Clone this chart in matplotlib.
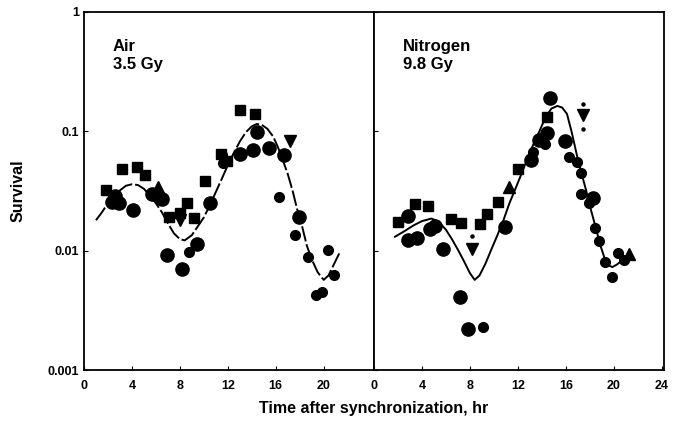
import numpy as np
import matplotlib
matplotlib.use("Agg")
import matplotlib.pyplot as plt

plt.rcParams['font.family'] = ['Liberation Sans', 'DejaVu Sans']

# ---- Air, 3.5 Gy ----
air_big_x = [2.6, 2.3, 2.9, 4.1, 5.7, 6.5, 6.9, 8.2, 9.45, 10.5, 14.4, 14.1, 15.4, 13.0, 16.7, 17.9]
air_big_y = [0.029, 0.0257, 0.025, 0.022, 0.030, 0.027, 0.0092, 0.0070, 0.0113, 0.025,
             0.099, 0.070, 0.072, 0.065, 0.063, 0.019]
air_small_x = [8.75, 11.6, 11.5, 16.3, 17.6, 18.7, 20.4, 20.9, 19.4, 19.9]
air_small_y = [0.0098, 0.054, 0.063, 0.0283, 0.0135, 0.0089, 0.0102, 0.00625, 0.00425, 0.0045]
air_sq_x = [1.8, 3.2, 4.4, 5.05, 7.1, 8.05, 8.6, 9.2, 10.1, 11.4, 11.95, 13.0, 14.3]
air_sq_y = [0.032, 0.048, 0.050, 0.043, 0.019, 0.0205, 0.025, 0.0187, 0.0385, 0.065, 0.056, 0.151, 0.14]
air_tu_x = [6.2]
air_tu_y = [0.034]
air_td_x = [8.05, 17.2]
air_td_y = [0.018, 0.083]
air_fit_x = [1.0, 1.5, 2.0, 2.5, 3.0, 3.5, 4.0, 4.5, 5.0, 5.5, 6.0, 6.5, 7.0, 7.5, 8.0, 8.4,
             9.0, 9.5, 10.0, 10.5, 11.0, 11.5, 12.0, 12.5, 13.0, 13.5, 14.0, 14.4, 14.8, 15.3,
             15.8, 16.2, 16.6, 17.0, 17.4, 17.8, 18.2, 18.6, 19.0, 19.5, 20.0, 20.4, 20.8, 21.3]
air_fit_y = [0.018, 0.021, 0.025, 0.029, 0.032, 0.035, 0.036, 0.0355, 0.033, 0.029, 0.025,
             0.021, 0.017, 0.014, 0.0125, 0.0122, 0.0135, 0.016, 0.019, 0.024, 0.031, 0.040,
             0.052, 0.066, 0.082, 0.098, 0.110, 0.115, 0.114, 0.105, 0.090, 0.073, 0.057,
             0.044, 0.032, 0.022, 0.016, 0.011, 0.0085, 0.0066, 0.0057, 0.0062, 0.0075, 0.0095]

# ---- Nitrogen, 9.8 Gy ----
n2_big_x = [2.86, 2.86, 3.56, 4.67, 5.08, 5.78, 10.9, 7.17, 7.86, 14.7, 14.4, 13.8, 15.9, 18.3, 13.1]
n2_big_y = [0.0195, 0.0123, 0.0127, 0.0151, 0.016, 0.0104, 0.0159, 0.0041, 0.0022, 0.189,
            0.096, 0.0845, 0.083, 0.0274, 0.0575]
n2_small_x = [9.1, 14.25, 13.3, 16.3, 16.9, 17.3, 17.3, 17.9, 18.4, 18.8, 19.3, 19.9, 20.4, 20.9]
n2_small_y = [0.0023, 0.079, 0.0675, 0.0605, 0.0556, 0.0445, 0.030, 0.0249, 0.0154, 0.0121,
              0.0081, 0.0060, 0.0095, 0.0083]
n2_sq_x = [2.0, 3.4, 4.5, 6.42, 7.3, 8.83, 9.44, 10.36, 12.0, 14.4]
n2_sq_y = [0.0175, 0.0246, 0.0237, 0.0183, 0.0171, 0.0167, 0.0203, 0.0257, 0.048, 0.132]
n2_tu_x = [11.3, 21.3]
n2_tu_y = [0.034, 0.0094]
n2_td_x = [8.14, 17.4]
n2_td_y = [0.0104, 0.137]
n2_dot_x = [8.14, 17.4, 17.4]
n2_dot_y = [0.0132, 0.169, 0.104]
n2_fit_x = [1.75, 2.5, 3.3, 4.0, 4.8, 5.4, 6.0, 6.5, 7.0, 7.5, 8.0, 8.4, 8.8, 9.3, 9.8, 10.3,
            10.8, 11.3, 11.8, 12.3, 12.8, 13.3, 13.8, 14.3, 14.8, 15.3, 15.7, 16.1, 16.5, 16.9,
            17.3, 17.7, 18.1, 18.56, 18.9, 19.25, 19.6, 19.9, 20.3, 20.7, 21.05]
n2_fit_y = [0.0131, 0.0145, 0.0163, 0.0177, 0.0186, 0.0175, 0.015, 0.0125, 0.0102, 0.0082,
            0.0065, 0.0057, 0.0062, 0.0078, 0.0103, 0.0135, 0.018, 0.025, 0.033, 0.044, 0.059,
            0.078, 0.10, 0.13, 0.155, 0.163, 0.158, 0.14, 0.098, 0.065, 0.045, 0.032, 0.022,
            0.0149, 0.011, 0.0086, 0.0075, 0.0073, 0.0077, 0.0083, 0.0089]

fig = plt.figure(figsize=(6.74, 4.24), dpi=100)
ax1 = fig.add_axes([0.1246, 0.127, 0.4303, 0.845])
ax2 = fig.add_axes([0.5549, 0.127, 0.4303, 0.845], sharey=ax1)

panels = [
    (ax1, air_big_x, air_big_y, air_small_x, air_small_y, air_sq_x, air_sq_y,
     air_tu_x, air_tu_y, air_td_x, air_td_y, air_fit_x, air_fit_y, (0, (8, 1.5)), "Air\n3.5 Gy"),
    (ax2, n2_big_x, n2_big_y, n2_small_x, n2_small_y, n2_sq_x, n2_sq_y,
     n2_tu_x, n2_tu_y, n2_td_x, n2_td_y, n2_fit_x, n2_fit_y, '-', "Nitrogen\n9.8 Gy"),
]

for (ax, bx, by, sx, sy, qx, qy, tux, tuy, tdx, tdy, fx, fy, ls, label) in panels:
    ax.plot(fx, fy, color='black', lw=1.4, ls=ls, zorder=2)
    ax.plot(bx, by, 'o', color='black', ms=9.5, zorder=3)
    ax.plot(sx, sy, 'o', color='black', ms=7, zorder=3)
    ax.plot(qx, qy, 's', color='black', ms=7, zorder=3)
    ax.plot(tux, tuy, '^', color='black', ms=8, zorder=3)
    ax.plot(tdx, tdy, 'v', color='black', ms=8, zorder=3)
    ax.set_yscale('log')
    ax.set_ylim(0.001, 1)
    ax.set_xlim(0, 24.2)
    ax.text(0.1, 0.925, label, transform=ax.transAxes, fontsize=12, fontweight='bold',
            va='top', ha='left', linespacing=1.25)
    ax.tick_params(direction='in', length=3, width=0.8, labelsize=9)
    ax.tick_params(axis='x', pad=7)
    for sp in ax.spines.values():
        sp.set_linewidth(1.3)

ax2.plot(n2_dot_x, n2_dot_y, 'o', color='black', ms=2.2, zorder=3)

ax1.set_xticks([0, 4, 8, 12, 16, 20])
ax2.set_xticks([0, 4, 8, 12, 16, 20, 24])
ax1.set_yticks([0.001, 0.01, 0.1, 1])
ax1.set_yticklabels(['0.001', '0.01', '0.1', '1'])
ax1.minorticks_off()
ax2.minorticks_off()
ax2.tick_params(labelleft=False)
for lab in ax1.get_xticklabels() + ax2.get_xticklabels() + ax1.get_yticklabels():
    lab.set_fontweight('bold')

ax1.set_ylabel('Survival', fontsize=11.5, fontweight='bold', labelpad=16)
fig.text(0.555, 0.025, 'Time after synchronization, hr', ha='center', fontsize=11.5, fontweight='bold')

fig.savefig('out.png', dpi=100)
